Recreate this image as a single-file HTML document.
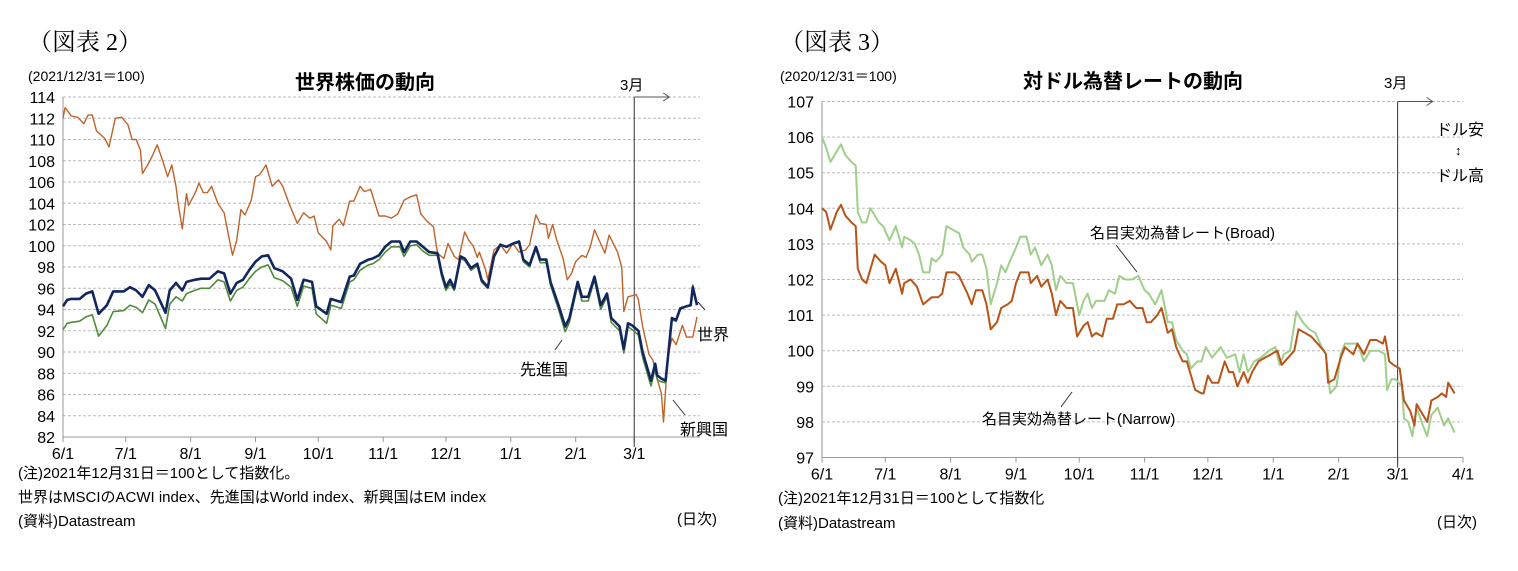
<!DOCTYPE html>
<html><head><meta charset="utf-8"><style>
body{margin:0;background:#fff;}
svg{display:block;font-family:"Liberation Sans","Noto Sans CJK JP",sans-serif;}
</style></head><body>
<svg id="s" width="1518" height="571" viewBox="0 0 1518 571" xmlns="http://www.w3.org/2000/svg">
<rect width="1518" height="571" fill="#fff"/>
<text x="28" y="50" font-size="24" font-family="Liberation Serif,Noto Serif CJK SC,serif">（図表 2）</text>
<text x="780" y="50" font-size="24" font-family="Liberation Serif,Noto Serif CJK SC,serif">（図表 3）</text>
<g id="c1"></g>
<g id="c2"></g>
</svg>
<script>
// ===== Chart 1 data (days since 6/1) =====
const emDays=[0,1,4,7,10,12,14,16,20,22,25,28,31,33,35,37,38,41,43,45,48,50,52,54,55,57,59,60,63,65,67,69,71,74,77,78,81,83,85,87,90,92,94,97,100,103,105,108,112,115,118,120,122,126,128,129,132,134,137,139,142,144,147,151,154,157,160,163,166,169,171,174,177,179,182,184,187,189,192,194,196,198,199,202,203,206,209,212,215,218,221,223,226,228,231,232,234,236,239,241,243,245,248,250,252,254,257,259,261,265,267,268,270,274,275,277,280,282,283,286,287,289,291,293,296,298,301,303];
const emVals=[112.0,113.0,112.2,112.1,111.5,112.3,112.3,110.8,110.1,109.3,112.0,112.1,111.4,110.0,110.0,109.0,106.8,107.8,108.6,109.5,107.8,106.5,107.6,105.6,104.0,101.6,104.9,103.8,104.9,105.9,105.0,105.0,105.6,104.0,103.1,102.1,99.1,100.5,103.4,102.9,104.3,106.5,106.7,107.6,105.6,106.2,105.6,104.0,102.1,103.1,102.6,102.8,101.2,100.4,99.6,101.9,102.5,101.9,104.2,104.2,105.6,105.1,105.3,102.8,102.8,102.6,103.0,104.3,104.6,104.8,103.0,102.3,101.8,99.3,98.8,100.2,99.0,98.7,101.3,100.5,100.0,98.9,99.4,97.7,96.8,99.6,100.1,99.3,100.2,99.4,99.6,100.1,102.9,102.1,102.0,100.7,102.0,100.5,98.8,96.8,97.4,98.5,99.1,98.9,99.9,101.5,100.2,99.3,101.0,99.4,98.0,93.8,95.2,95.4,94.9,92.4,89.8,89.2,88.1,86.1,83.4,89.5,91.3,90.7,92.5,91.4,91.4,93.3];
const wDays=[0,2,4,8,11,14,17,21,24,29,32,35,38,41,44,49,51,54,57,59,63,66,70,74,77,80,83,86,89,92,95,98,101,105,109,112,115,119,121,126,128,133,137,139,142,146,148,151,154,157,161,163,166,169,172,175,179,181,183,185,187,190,192,195,198,200,203,206,209,212,215,218,220,223,226,228,231,233,237,240,242,246,248,251,254,257,260,262,266,268,270,272,275,277,281,283,284,286,288,291,293,295,298,300,301,303];
const wVals=[94.3,94.9,95.0,95.0,95.5,95.7,93.6,94.4,95.7,95.7,96.1,95.8,95.2,96.3,95.8,93.7,95.8,96.5,95.8,96.6,96.8,96.9,96.9,97.6,97.4,95.5,96.5,96.8,97.7,98.5,99.0,99.1,97.9,97.6,96.9,94.9,96.8,96.6,94.3,93.6,95.0,94.7,97.1,97.2,98.3,98.7,98.8,99.1,99.9,100.4,100.4,99.4,100.4,100.4,99.9,99.4,99.3,97.4,96.1,96.8,96.0,99.0,98.8,97.9,98.3,96.8,96.1,99.0,100.1,99.9,100.2,100.4,98.7,98.2,99.9,98.7,98.7,96.6,94.3,92.4,93.2,96.6,95.2,95.2,97.1,94.4,95.5,93.2,92.4,90.3,92.7,92.5,92.0,90.0,87.3,88.9,87.8,87.5,87.3,93.2,93.0,94.1,94.3,94.4,96.1,94.4];
const dmVals=[92.1,92.7,92.8,92.9,93.3,93.5,91.5,92.5,93.8,93.9,94.4,94.2,93.7,94.9,94.5,92.2,94.5,95.2,94.8,95.5,95.8,96.0,96.0,96.8,96.6,94.8,95.8,96.1,96.9,97.6,98.0,98.2,97.0,96.7,96.1,94.3,96.2,96.0,93.6,92.7,94.4,94.1,96.6,96.8,97.7,98.2,98.3,98.7,99.4,99.9,99.9,99.0,100.0,100.1,99.5,99.1,99.1,97.1,95.8,96.4,95.8,98.8,98.6,97.7,98.1,96.6,96.0,98.9,100.1,99.9,100.2,100.3,98.5,98.0,99.7,98.4,98.4,96.3,93.9,91.9,92.8,96.3,94.8,94.8,96.8,94.0,95.2,92.8,92.0,89.9,92.4,92.1,91.6,89.5,86.8,88.5,87.4,87.2,87.1,93.0,92.9,94.0,94.3,94.4,96.3,94.5];
const ticks1=["6/1","7/1","8/1","9/1","10/1","11/1","12/1","1/1","2/1","3/1"];
const tickDays1=[0,30,61,92,122,153,183,214,245,273];
const yTicks1=[82,84,86,88,90,92,94,96,98,100,102,104,106,108,110,112,114];
// ===== Chart 2 data =====
const brDays=[0,2,4,7,9,11,14,16,17,19,21,23,25,27,29,32,35,38,39,42,44,46,48,51,52,54,57,59,62,65,67,70,71,74,76,78,80,83,85,87,89,92,94,97,99,101,104,107,109,111,113,116,119,122,124,126,128,130,134,136,139,141,144,147,150,153,155,158,161,164,166,168,171,173,175,178,180,182,185,189,192,196,198,200,202,205,208,210,212,215,217,219,222,225,228,231,234,237,239,241,244,246,248,251,254,257,260,264,267,268,270,272,275,276,278,280,282,285,287,289,292,295,297,300];
const brVals=[106.0,105.7,105.3,105.6,105.8,105.5,105.3,105.2,103.9,103.6,103.6,104.0,103.8,103.6,103.5,103.1,103.5,102.9,103.2,103.1,103.0,102.7,102.2,102.2,102.6,102.5,102.7,103.5,103.4,103.3,102.9,102.7,102.5,102.7,102.7,102.3,101.3,101.9,102.4,102.2,102.5,102.9,103.2,103.2,102.7,102.9,102.4,102.7,102.4,101.7,102.1,101.9,101.9,101.0,101.4,101.6,101.2,101.4,101.4,101.7,101.6,102.1,102.0,102.0,102.1,101.7,101.6,101.3,101.7,100.8,100.8,100.3,100.0,99.9,99.5,99.7,99.7,100.1,99.8,100.1,99.8,99.9,99.4,99.9,99.4,99.7,99.8,99.9,100.0,100.1,99.6,99.9,100.0,101.1,100.8,100.6,100.5,100.1,99.9,98.8,99.0,99.9,100.2,100.2,100.2,99.7,100.0,100.0,99.9,98.9,99.2,99.2,99.0,98.1,98.0,97.6,98.4,97.9,97.6,98.2,98.4,97.9,98.1,97.7];
const nrDays=[0,2,4,7,9,11,14,16,17,19,21,23,25,28,30,32,35,38,39,42,45,48,52,55,57,59,63,65,69,71,73,76,78,80,83,85,88,90,92,94,98,99,102,104,107,109,111,113,116,119,121,124,126,128,130,133,135,138,140,143,146,149,152,154,156,159,161,164,166,168,171,173,175,177,180,181,183,185,188,191,193,195,197,200,202,204,207,210,213,216,218,221,224,226,229,232,235,238,239,240,243,246,248,250,252,254,257,260,263,266,267,269,271,274,276,279,281,282,284,287,289,292,294,296,297,300];
const nrVals=[104.0,103.9,103.4,103.9,104.1,103.8,103.6,103.5,102.3,102.0,101.9,102.3,102.7,102.5,102.4,101.9,102.3,101.6,101.9,102.0,101.8,101.3,101.5,101.5,101.6,102.2,102.2,102.1,101.6,101.3,101.7,101.7,101.3,100.6,100.8,101.2,101.3,101.4,101.9,102.2,102.2,101.9,102.1,101.8,102.0,101.6,101.0,101.4,101.2,101.2,100.4,100.7,100.8,100.4,100.5,100.4,100.9,100.9,101.3,101.3,101.4,101.2,101.2,100.8,100.8,101.0,101.2,100.5,100.6,100.1,99.7,99.7,99.3,98.9,98.8,98.8,99.3,99.1,99.1,99.7,99.4,99.4,99.0,99.4,99.1,99.4,99.7,99.8,99.9,100.0,99.6,99.8,100.0,100.6,100.5,100.4,100.2,100.0,99.9,99.1,99.2,99.8,100.1,100.0,99.9,100.2,99.9,100.3,100.3,100.2,100.4,99.7,99.6,99.5,98.6,98.3,97.9,98.5,98.3,98.0,98.6,98.7,98.8,98.7,99.1,98.8];
const ticks2=["6/1","7/1","8/1","9/1","10/1","11/1","12/1","1/1","2/1","3/1","4/1"];
const tickDays2=[0,30,61,92,122,153,183,214,245,273,304];
const yTicks2=[97,98,99,100,101,102,103,104,105,106,107];

const NS="http://www.w3.org/2000/svg";
function mk(parent,tag,attrs,txt){const e=document.createElementNS(NS,tag);for(const k in attrs)e.setAttribute(k,attrs[k]);if(txt!==undefined)e.textContent=txt;parent.appendChild(e);return e;}

function chart(g,o){
  const X=d=>o.x0+(d/o.dEnd)*(o.x1-o.x0);
  const Y=v=>o.yB+(v-o.vMin)/(o.vMax-o.vMin)*(o.yT-o.yB);
  o.yTicks.forEach(v=>{
    const l=mk(g,'line',{x1:o.x0,x2:o.gridEnd,y1:Y(v),y2:Y(v),stroke:'#bbb','stroke-dasharray':'3,2','stroke-width':1});
    
    
    const t=mk(g,'text',{x:o.x0-8,y:Y(v)+6,'text-anchor':'end','font-size':16},String(v));
    
    
  });
  mk(g,'line',{x1:o.x0,x2:o.x0,y1:o.yT,y2:o.yB,stroke:'#999'});
  mk(g,'line',{x1:o.x0,x2:o.gridEnd,y1:o.yB,y2:o.yB,stroke:'#999'});
  o.tickDays.forEach((d,i)=>{
    mk(g,'line',{x1:X(d),x2:X(d),y1:o.yB,y2:o.yB+5,stroke:'#999'});
    const t=mk(g,'text',{x:X(d),y:o.yB+22,'text-anchor':'middle','font-size':16},o.ticks[i]);
    
    
  });
  // march line
  const mx=X(273);
  mk(g,'line',{x1:mx,x2:mx,y1:o.yT,y2:o.yB+10,stroke:'#333'});
  mk(g,'path',{d:`M${mx} ${o.yT}H${mx+35}M${mx+29} ${o.yT-4}L${mx+35} ${o.yT}L${mx+29} ${o.yT+4}`,stroke:'#555',fill:'none'});
  o.series.forEach(s=>{
    const d=s.days.map((dd,i)=>(i?'L':'M')+X(dd).toFixed(1)+' '+Y(s.vals[i]).toFixed(1)).join('');
    const p=mk(g,'path',{d:d,fill:'none',stroke:s.color,'stroke-width':s.w,'stroke-linejoin':'round'});
    
    
  });
}
const g1=document.getElementById('c1');
chart(g1,{x0:63,x1:697,dEnd:303,gridEnd:700,yT:97,yB:437,vMin:82,vMax:114,yTicks:yTicks1,ticks:ticks1,tickDays:tickDays1,
 series:[{name:'emerging-line',days:emDays,vals:emVals,color:'#c0622a',w:1.4},{name:'developed-line',days:wDays,vals:dmVals,color:'#4f8a3a',w:1.6},{name:'world-line',days:wDays,vals:wVals,color:'#12275e',w:2.6}]});
const g2=document.getElementById('c2');
chart(g2,{x0:822,x1:1463,dEnd:304,gridEnd:1463,yT:101.5,yB:457.5,vMin:97,vMax:107,yTicks:yTicks2,ticks:ticks2,tickDays:tickDays2,
 series:[{name:'broad-line',days:brDays,vals:brVals,color:'#9fcf8a',w:2},{name:'narrow-line',days:nrDays,vals:nrVals,color:'#b85419',w:2}]});
</script>
<g></g>
<svg style="position:absolute;left:0;top:0" width="1518" height="571" xmlns="http://www.w3.org/2000/svg" font-family="Liberation Sans,Noto Sans CJK JP,sans-serif">
<text x="28" y="81" font-size="14">(2021/12/31＝100)</text>
<text x="365" y="89" font-size="20" font-weight="bold" text-anchor="middle">世界株価の動向</text>
<text x="620" y="90" font-size="15">3月</text>
<text x="697" y="340" font-size="16">世界</text>
<path d="M705 310L698 302" stroke="#333" fill="none"/>
<text x="520" y="375" font-size="16">先進国</text>
<path d="M555 350L562 340" stroke="#333" fill="none"/>
<text x="680" y="435" font-size="16">新興国</text>
<path d="M685 415L673 400" stroke="#333" fill="none"/>
<text x="18" y="478" font-size="15">(注)2021年12月31日＝100として指数化。</text>
<text x="18" y="502" font-size="15">世界はMSCIのACWI index、先進国はWorld index、新興国はEM index</text>
<text x="18" y="526" font-size="15">(資料)Datastream</text>
<text x="677" y="524" font-size="15">(日次)</text>

<text x="780" y="81" font-size="14">(2020/12/31＝100)</text>
<text x="1133" y="88" font-size="20" font-weight="bold" text-anchor="middle">対ドル為替レートの動向</text>
<text x="1384" y="88" font-size="15">3月</text>
<text x="1436" y="135" font-size="16">ドル安</text>
<text x="1455" y="155" font-size="13">↕</text>
<text x="1436" y="181" font-size="16">ドル高</text>
<text x="1090" y="238" font-size="15">名目実効為替レート(Broad)</text>
<path d="M1116 245L1137 272" stroke="#333" fill="none"/>
<text x="982" y="424" font-size="15">名目実効為替レート(Narrow)</text>
<path d="M1061 407L1072 392" stroke="#333" fill="none"/>
<text x="778" y="503" font-size="15">(注)2021年12月31日＝100として指数化</text>
<text x="778" y="528" font-size="15">(資料)Datastream</text>
<text x="1437" y="527" font-size="15">(日次)</text>
</svg>
</body></html>
